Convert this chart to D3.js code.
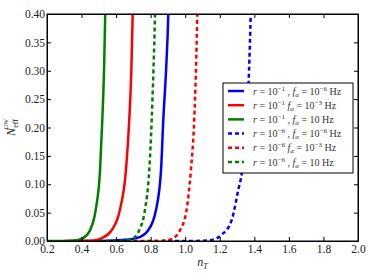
<html>
<script src='https://d3js.org/d3.v7.min.js'></script>
<style>
body { margin: 0; background: #fff; }
text { font-family: "Liberation Serif", serif; }
.axis path, .axis line { stroke: #000; }
.axis text { font-size: 11.5px; fill: #222; }
</style>
<body>
<svg width=374 height=280></svg>
<script>
// n_T values and N_eff^GW, one pair of arrays per curve
var nt_b1 = [0.40, 0.55, 0.65, 0.72, 0.786, 0.831, 0.860, 0.873, 0.889, 0.902, 0.910];
var n_b1  = [0, 0.0005, 0.002, 0.005, 0.019, 0.055, 0.125, 0.213, 0.30, 0.40, 0.52];
var nt_r1 = [0.30, 0.42, 0.47, 0.517, 0.574, 0.622, 0.657, 0.676, 0.688, 0.696, 0.705];
var n_r1  = [0, 0.0003, 0.001, 0.005, 0.019, 0.055, 0.125, 0.213, 0.30, 0.40, 0.52];
var nt_g1 = [0.20, 0.30, 0.36, 0.408, 0.449, 0.482, 0.507, 0.520, 0.530, 0.537, 0.545];
var n_g1  = [0, 0.0002, 0.001, 0.005, 0.019, 0.055, 0.125, 0.213, 0.30, 0.40, 0.52];
var nt_b6 = [0.90, 1.05, 1.10, 1.153, 1.211, 1.269, 1.307, 1.327, 1.35, 1.369, 1.379, 1.387];
var n_b6  = [0, 0.0001, 0.0005, 0.002, 0.011, 0.037, 0.090, 0.119, 0.19, 0.298, 0.40, 0.52];
var nt_r6 = [0.70, 0.85, 0.90, 0.931, 0.970, 1.008, 1.033, 1.052, 1.062, 1.070, 1.078];
var n_r6  = [0, 0.0005, 0.002, 0.005, 0.019, 0.055, 0.125, 0.213, 0.30, 0.40, 0.52];
var nt_g6 = [0.50, 0.62, 0.67, 0.70, 0.734, 0.767, 0.792, 0.806, 0.816, 0.825, 0.832];
var n_g6  = [0, 0.0005, 0.002, 0.005, 0.019, 0.055, 0.125, 0.213, 0.30, 0.40, 0.52];

var series = [
  {nt: nt_b1, n: n_b1, color: "#0000ff", dash: null, r: "-1", fa: "-6", comma: true},
  {nt: nt_r1, n: n_r1, color: "#ff0000", dash: null, r: "-1", fa: "-3", comma: false},
  {nt: nt_g1, n: n_g1, color: "#008000", dash: null, r: "-1", fa: null, comma: true},
  {nt: nt_b6, n: n_b6, color: "#0000ff", dash: "4,3", r: "-6", fa: "-6", comma: true},
  {nt: nt_r6, n: n_r6, color: "#ff0000", dash: "4,3", r: "-6", fa: "-3", comma: false},
  {nt: nt_g6, n: n_g6, color: "#008000", dash: "4,3", r: "-6", fa: null, comma: true}
];

var xticks = [0.2, 0.4, 0.6, 0.8, 1.0, 1.2, 1.4, 1.6, 1.8, 2.0];
var yticks = [0.00, 0.05, 0.10, 0.15, 0.20, 0.25, 0.30, 0.35, 0.40];

var svg = d3.select("svg"),
    x0 = 47, y0 = 14, x1 = 358, y1 = 241;

var x = d3.scaleLinear().domain([0.2, 2.0]).range([x0, x1]);
var y = d3.scaleLinear().domain([0, 0.4]).range([y1, y0]);

svg.append("clipPath").attr("id", "plot")
  .append("rect")
    .attr("x", x0).attr("y", y0)
    .attr("width", x1 - x0).attr("height", y1 - y0);

var line = d3.line()
  .x(function(d) { return x(d[0]); })
  .y(function(d) { return y(d[1]); })
  .curve(d3.curveMonotoneX);

svg.append("g")
  .attr("clip-path", "url(#plot)")
  .selectAll("path")
  .data(series)
  .enter()
  .append("path")
    .attr("d", function(s) { return line(d3.zip(s.nt, s.n)); })
    .attr("fill", "none")
    .attr("stroke", function(s) { return s.color; })
    .attr("stroke-width", 2.5)
    .attr("stroke-dasharray", function(s) { return s.dash; });

// axes, ticks pointing inward on all four sides
svg.append("g").attr("class", "axis")
  .attr("transform", "translate(0," + y1 + ")")
  .call(d3.axisBottom(x).tickValues(xticks).tickFormat(d3.format(".1f"))
        .tickSizeInner(-4).tickSizeOuter(0).tickPadding(4));
svg.append("g").attr("class", "axis")
  .attr("transform", "translate(0," + y0 + ")")
  .call(d3.axisTop(x).tickValues(xticks).tickFormat("")
        .tickSizeInner(-4).tickSizeOuter(0));
svg.append("g").attr("class", "axis")
  .attr("transform", "translate(" + x0 + ",0)")
  .call(d3.axisLeft(y).tickValues(yticks).tickFormat(d3.format(".2f"))
        .tickSizeInner(-4).tickSizeOuter(0).tickPadding(2));
svg.append("g").attr("class", "axis")
  .attr("transform", "translate(" + x1 + ",0)")
  .call(d3.axisRight(y).tickValues(yticks).tickFormat("")
        .tickSizeInner(-4).tickSizeOuter(0));

svg.selectAll(".axis").attr("font-family", "Liberation Serif");

svg.append("rect")
  .attr("x", x0).attr("y", y0)
  .attr("width", x1 - x0).attr("height", y1 - y0)
  .attr("fill", "none").attr("stroke", "#000").attr("stroke-width", 1);

// axis labels
var xl = svg.append("text")
  .attr("x", (x0 + x1) / 2).attr("y", 266)
  .attr("text-anchor", "middle").attr("font-size", 12).attr("fill", "#222");
xl.append("tspan").attr("font-style", "italic").text("n");
xl.append("tspan").attr("font-style", "italic").attr("font-size", 8).attr("dy", 3).text("T");

var yl = svg.append("text")
  .attr("transform", "translate(15," + (y0 + y1) / 2 + ") rotate(-90)")
  .attr("text-anchor", "middle").attr("font-size", 12).attr("fill", "#222");
yl.append("tspan").attr("font-style", "italic").text("N");
yl.append("tspan").attr("font-size", 8).attr("dy", 3).text("eff");
yl.append("tspan").attr("font-size", 6).attr("dx", -10).attr("dy", -10).text("GW");

// legend
var lg = svg.append("g");
lg.append("rect")
  .attr("x", 223).attr("y", 83).attr("width", 130).attr("height", 90)
  .attr("fill", "#fff").attr("stroke", "#000").attr("stroke-width", 1);

var row = lg.selectAll("g.row")
  .data(series)
  .enter()
  .append("g")
    .attr("class", "row")
    .attr("transform", function(s, i) { return "translate(0," + (91 + i * 14.2) + ")"; });

row.append("line")
  .attr("x1", 228).attr("x2", 244)
  .attr("stroke", function(s) { return s.color; })
  .attr("stroke-width", 2.5)
  .attr("stroke-dasharray", function(s) { return s.dash; });

var lt = row.append("text")
  .attr("x", 253).attr("y", 3.5).attr("font-size", 10).attr("fill", "#333");
lt.each(function(s) {
  var t = d3.select(this);
  t.append("tspan").attr("font-style", "italic").text("r");
  t.append("tspan").text(" = 10");
  t.append("tspan").attr("font-size", 7).attr("dy", -4).text(s.r.replace("-", "\u2212"));
  t.append("tspan").attr("dy", 4).text(s.comma ? " , " : "  ");
  t.append("tspan").attr("font-style", "italic").text("f");
  t.append("tspan").attr("font-style", "italic").attr("font-size", 7).attr("dy", 2).text("\u03b1");
  t.append("tspan").attr("dy", -2).text(" = 10");
  if (s.fa) {
    t.append("tspan").attr("font-size", 7).attr("dy", -4).text(s.fa.replace("-", "\u2212"));
    t.append("tspan").attr("dy", 4).text(" Hz");
  } else {
    t.append("tspan").text(" Hz");
  }
});
</script>
</body>
</html>
